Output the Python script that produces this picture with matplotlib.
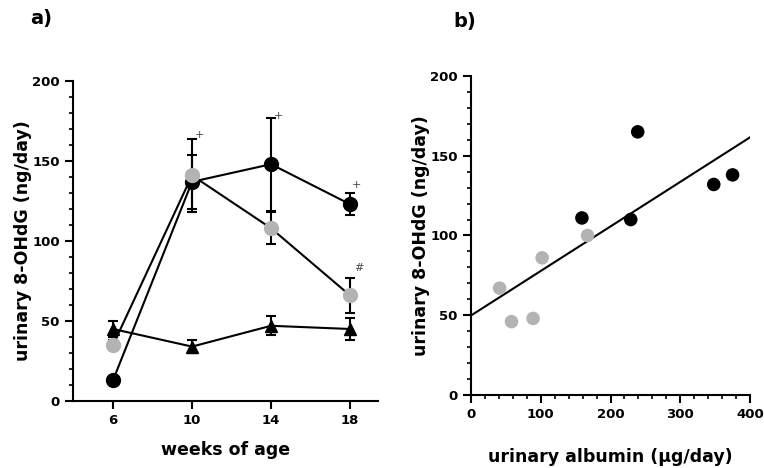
import numpy as np
import matplotlib
matplotlib.use("Agg")
import matplotlib.pyplot as plt
from matplotlib.ticker import MultipleLocator

# panel a: weeks of age
weeks = [6, 10, 14, 18]
black_mean = [13, 137, 148, 123]
black_err = [2, 17, 29, 7]
grey_mean = [35, 141, 108, 66]
grey_err = [3, 23, 10, 11]
tri_mean = [45, 34, 47, 45]
tri_err = [5, 4, 6, 7]

# significance marks (x, y, symbol)
marks_x = [10.15, 14.15, 18.1, 18.2]
marks_y = [166, 178, 135, 83]
marks_txt = ["+", "+", "+", "#"]

# panel b: albumin vs 8-OHdG
grey_alb = [41, 58, 89, 102, 167]
grey_ohdg = [67, 46, 48, 86, 100]
black_alb = [159, 229, 239, 348, 375]
black_ohdg = [111, 110, 165, 132, 138]

GREY = "#b3b3b3"
plt.rcParams["font.family"] = "DejaVu Sans"
plt.rcParams["font.weight"] = "bold"

fig = plt.figure(figsize=(7.64, 4.68), dpi=100)
ax1 = fig.add_axes([0.0955, 0.1432, 0.3993, 0.6837])
ax2 = fig.add_axes([0.6165, 0.156, 0.3652, 0.6816])

for ax in (ax1, ax2):
    for s in ("top", "right"):
        ax.spines[s].set_visible(False)
    for s in ("left", "bottom"):
        ax.spines[s].set_linewidth(1.5)
    ax.tick_params(which="major", length=6, width=1.5, labelsize=9.5)
    ax.tick_params(which="minor", length=3, width=1.2)
    ax.set_ylim(0, 200)
    ax.yaxis.set_major_locator(MultipleLocator(50))
    ax.yaxis.set_minor_locator(MultipleLocator(10))
    ax.set_ylabel("urinary 8-OHdG (ng/day)", fontsize=12.5, fontweight="bold")

# panel a
ax1.errorbar(weeks, tri_mean, yerr=tri_err, color="black", marker="^", ms=9,
             lw=1.5, capsize=3.5, elinewidth=1.5, capthick=1.5, zorder=3)
ax1.errorbar(weeks, black_mean, yerr=black_err, color="black", marker="o", ms=10,
             lw=1.5, capsize=3.5, elinewidth=1.5, capthick=1.5, zorder=3)
ax1.errorbar(weeks, grey_mean, yerr=grey_err, color="black", marker="o", ms=10,
             mfc=GREY, mec=GREY, lw=1.5, capsize=3.5, elinewidth=1.5,
             capthick=1.5, zorder=4)
for x, y, t in zip(marks_x, marks_y, marks_txt):
    ax1.text(x, y, t, fontsize=8, fontweight="normal", color="#444444",
             ha="left", va="center")
ax1.set_xlim(3.97, 19.42)
ax1.set_xticks(weeks)
ax1.set_xlabel("weeks of age", fontsize=12.5, fontweight="bold", labelpad=10)
ax1.yaxis.labelpad = 0

# panel b
ax2.scatter(grey_alb, grey_ohdg, s=95, color=GREY, edgecolors="none", zorder=3)
ax2.scatter(black_alb, black_ohdg, s=95, color="black", edgecolors="none", zorder=3)
all_x = np.array(grey_alb + black_alb)
all_y = np.array(grey_ohdg + black_ohdg)
slope, icpt = np.polyfit(all_x, all_y, 1)
xs = np.array([0, 400])
ax2.plot(xs, icpt + slope * xs, color="black", lw=1.5, zorder=2)
ax2.set_xlim(0, 400)
ax2.xaxis.set_major_locator(MultipleLocator(100))
ax2.xaxis.set_minor_locator(MultipleLocator(20))
ax2.set_xlabel("urinary albumin (\u00b5g/day)", fontsize=12.5, fontweight="bold",
               labelpad=19)
ax2.yaxis.labelpad = 0

fig.text(0.04, 0.96, "a)", fontsize=14, fontweight="bold", va="center")
fig.text(0.593, 0.955, "b)", fontsize=14, fontweight="bold", va="center")

fig.savefig("out.png", dpi=100)
